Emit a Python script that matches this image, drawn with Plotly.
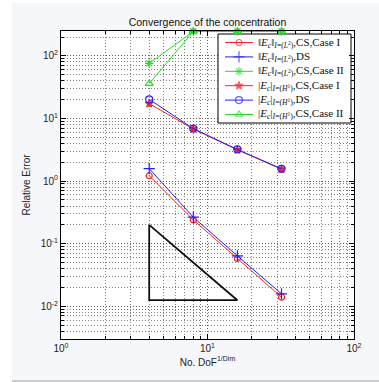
import plotly.graph_objects as go
import numpy as np

x_dof = [4, 8, 16, 32]
L2_CS_I = [1.22, 0.24, 0.058, 0.014]
L2_DS = [1.58, 0.265, 0.064, 0.0158]
L2_CS_II = [76, 246, 246, 246]
H1_CS_I = [17.3, 6.8, 3.15, 1.55]
H1_DS = [20.2, 6.9, 3.2, 1.57]
H1_CS_II = [36, 246, 246, 246]
tri_x = [4, 4, 16, 4]
tri_y = [0.2, 0.0125, 0.0125, 0.2]

names = [
    "‖<i>E<sub>c</sub></i>‖<sub><i>I</i>=(<i>L</i><sup>2</sup>)</sub>,CS,Case I",
    "‖<i>E<sub>c</sub></i>‖<sub><i>I</i>=(<i>L</i><sup>2</sup>)</sub>,DS",
    "‖<i>E<sub>c</sub></i>‖<sub><i>I</i>=(<i>L</i><sup>2</sup>)</sub>,CS,Case II",
    "|<i>E<sub>c</sub></i>|<sub><i>I</i>=(<i>H</i><sup>1</sup>)</sub>,CS,Case I",
    "|<i>E<sub>c</sub></i>|<sub><i>I</i>=(<i>H</i><sup>1</sup>)</sub>,DS",
    "|<i>E<sub>c</sub></i>|<sub><i>I</i>=(<i>H</i><sup>1</sup>)</sub>,CS,Case II",
]
series = [L2_CS_I, L2_DS, L2_CS_II, H1_CS_I, H1_DS, H1_CS_II]
colors = ["#ff2020", "#2020ff", "#20e020", "#ff2020", "#2020ff", "#20e020"]
symbols = ["circle-open", "cross-thin-open", "asterisk-open", "star", "circle-open", "triangle-up-open"]
sizes = [6, 8, 7, 6, 7, 7]

# plot-area geometry (pixels) used for the hand-drawn legend
L, R, T, B = 61, 354, 31, 339
XR = [0, 2]
YR = [np.log10(0.003), np.log10(250)]


def px_x(px):
    return 10 ** (XR[0] + (px - L) / (R - L) * (XR[1] - XR[0]))


def px_y(py):
    return 10 ** (YR[1] - (py - T) / (B - T) * (YR[1] - YR[0]))


fig = go.Figure()
for nm, ys, c, s, sz in zip(names, series, colors, symbols, sizes):
    fig.add_trace(go.Scatter(
        x=x_dof, y=ys, name=nm, mode="lines+markers",
        line=dict(color=c, width=1),
        marker=dict(symbol=s, size=sz, color=c, line=dict(color=c, width=1.2)),
        cliponaxis=False, showlegend=False,
    ))

fig.add_trace(go.Scatter(x=tri_x, y=tri_y, mode="lines", showlegend=False,
                         line=dict(color="#111111", width=1.8)))

# legend (drawn manually to match compact MATLAB layout)
rows = [42.5, 56.9, 71.3, 85.7, 100.1, 114.5]
annotations = []
for nm, c, s, sz, ry in zip(names, colors, symbols, sizes, rows):
    fig.add_trace(go.Scatter(
        x=[px_x(225), px_x(239), px_x(253)], y=[px_y(ry)] * 3, mode="lines+markers",
        line=dict(color=c, width=1),
        marker=dict(symbol=s, size=[0, sz, 0], color=c, line=dict(color=c, width=1.2)),
        showlegend=False, hoverinfo="skip",
    ))
    annotations.append(dict(
        text=nm, xref="paper", yref="paper",
        x=(256 - L) / (R - L), y=(B - ry) / (B - T),
        xanchor="left", yanchor="middle", showarrow=False,
        font=dict(family="Liberation Serif, Times New Roman", size=11, color="#111"),
    ))

minor_x = [v * 10 ** k for k in range(0, 2) for v in range(2, 10)]
minor_y = [v * 10 ** k for k in range(-3, 3) for v in range(2, 10)]

axis_common = dict(
    showline=True, linecolor="black", linewidth=1, mirror="allticks",
    ticks="inside", ticklen=5, tickcolor="black",
    showgrid=True, gridcolor="#5a5a5a", griddash="1px,2px", gridwidth=1,
    zeroline=False,
    tickfont=dict(family="Liberation Sans, Arial", size=10, color="#222"),
)

minor_common = dict(ticks="inside", ticklen=3, tickcolor="black",
                    showgrid=True, gridcolor="#808080", griddash="1px,2px", gridwidth=1)

fig.update_xaxes(
    type="log", range=XR,
    tickvals=[1, 10, 100],
    ticktext=["10<sup>0</sup>", "10<sup>1</sup>", "10<sup>2</sup>"],
    minor=dict(tickvals=minor_x, **minor_common),
    title=dict(text="No. DoF<sup>1/Dim</sup>", font=dict(family="Liberation Sans, Arial", size=10, color="#222"),
               standoff=5),
    **axis_common,
)
fig.update_yaxes(
    type="log", range=YR,
    tickvals=[0.01, 0.1, 1, 10, 100],
    ticktext=["10<sup>-2</sup>", "10<sup>-1</sup>", "10<sup>0</sup>", "10<sup>1</sup>", "10<sup>2</sup>"],
    minor=dict(tickvals=minor_y, **minor_common),
    title=dict(text="Relative Error", font=dict(family="Liberation Sans, Arial", size=10, color="#222"),
               standoff=8),
    **axis_common,
)

fig.update_layout(
    width=379, height=382,
    margin=dict(l=L, r=379 - R, t=T, b=382 - B),
    paper_bgcolor="white",
    plot_bgcolor="white",
    title=dict(text="Convergence of the concentration", x=(L + R) / 2 / 379, xanchor="center",
               y=1 - 22 / 382, yanchor="middle",
               font=dict(family="Liberation Sans, Arial", size=10.5, color="#111")),
    showlegend=False,
    annotations=annotations,
    shapes=[
        dict(type="rect", xref="paper", yref="paper", x0=-49 / 293, x1=318 / 293,
             y0=-42 / 308, y1=336 / 308, fillcolor="#f6f7fb", line=dict(width=0), layer="below"),
        dict(type="rect", xref="paper", yref="paper", x0=0, x1=1, y0=0, y1=1,
             fillcolor="white", line=dict(width=0), layer="below"),
        dict(type="line", xref="paper", yref="paper", x0=-49 / 293, x1=318 / 293,
             y0=-42 / 308, y1=-42 / 308, line=dict(color="#bbbbbb", width=1.5)),
        dict(type="rect", xref="x", yref="y", x0=px_x(218), x1=px_x(351),
             y0=px_y(123), y1=px_y(34), fillcolor="white",
             line=dict(color="black", width=1), layer="between"),
    ],
)

fig.write_html("out.html")
